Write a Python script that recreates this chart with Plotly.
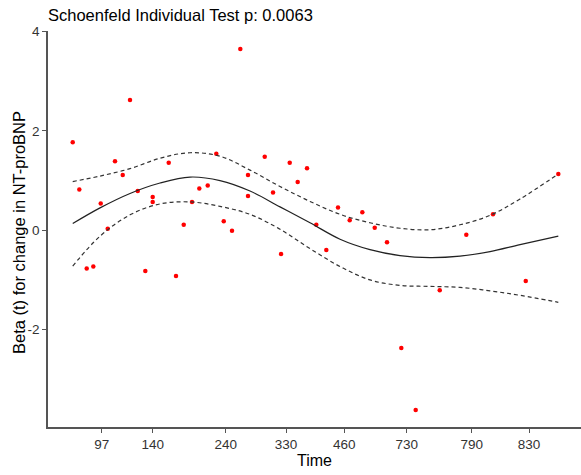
import plotly.graph_objects as go

# Transformed (km) time of each residual and the scaled Schoenfeld residual
res_t = [0.0, 0.0136, 0.0288, 0.0424, 0.0577, 0.0721, 0.0871, 0.1030, 0.1180, 0.1339,
         0.1495, 0.1647, 0.1647, 0.1977, 0.2127, 0.2286, 0.2457, 0.2607, 0.2780, 0.2957,
         0.3110, 0.3280, 0.3451, 0.3610, 0.3610, 0.3954, 0.4125, 0.4290, 0.4469, 0.4633,
         0.4825, 0.5016, 0.5222, 0.5463, 0.5704, 0.5964, 0.6219, 0.6472, 0.6767, 0.7063,
         0.7558, 0.8105, 0.8655, 0.9329, 1.0]
res_beta = [1.77, 0.82, -0.77, -0.73, 0.54, 0.03, 1.39, 1.11, 2.62, 0.79,
            -0.82, 0.67, 0.57, 1.36, -0.92, 0.11, 0.57, 0.84, 0.90, 1.54,
            0.18, -0.01, 3.65, 1.11, 0.69, 1.48, 0.76, -0.48, 1.36, 0.97,
            1.25, 0.11, -0.40, 0.46, 0.20, 0.36, 0.05, -0.24, -2.37, -3.62,
            -1.21, -0.09, 0.32, -1.02, 1.13]

# Smoothed fit and confidence band
fit_t = [0.0, 0.0562, 0.1180, 0.1798, 0.2416, 0.3033, 0.3651, 0.4269, 0.4887,
         0.5505, 0.6122, 0.6740, 0.7358, 0.7976, 0.8594, 0.9212, 1.0]
fit_mid = [0.135, 0.45, 0.74, 0.95, 1.07, 1.00, 0.79, 0.47, 0.15,
           -0.18, -0.39, -0.51, -0.55, -0.52, -0.43, -0.29, -0.12]
fit_upper = [0.98, 1.09, 1.24, 1.45, 1.56, 1.49, 1.21, 0.88, 0.58,
             0.32, 0.15, 0.04, 0.01, 0.11, 0.30, 0.63, 1.13]
fit_lower = [-0.72, -0.12, 0.31, 0.53, 0.57, 0.48, 0.32, 0.02, -0.37,
             -0.73, -1.00, -1.11, -1.13, -1.15, -1.22, -1.31, -1.45]

# Time axis ticks (position on transformed scale, original time label)
tick_pos = [0.0597, 0.1647, 0.3151, 0.4393, 0.5593, 0.6878, 0.8217, 0.9397]
tick_lab = ["97", "140", "240", "330", "460", "730", "790", "830"]
y_ticks = [-2, 0, 2, 4]
y_labels = ["-2", "0", "2", "4"]

FONT = "Liberation Sans, Arial"

fig = go.Figure()
fig.add_trace(go.Scatter(x=res_t, y=res_beta, mode="markers",
                         marker=dict(color="red", size=4.5), showlegend=False))
fig.add_trace(go.Scatter(x=fit_t, y=fit_mid, mode="lines", line_shape="spline",
                         line=dict(color="#222222", width=1.2), showlegend=False))
for band in (fit_upper, fit_lower):
    fig.add_trace(go.Scatter(x=fit_t, y=band, mode="lines", line_shape="spline",
                             line=dict(color="#333333", width=1.2, dash="4px,3px"),
                             showlegend=False))

axis_common = dict(showline=True, linecolor="#555555", linewidth=1.5,
                   ticks="outside", ticklen=4, tickcolor="#555555", tickwidth=1,
                   showgrid=False, zeroline=False,
                   tickfont=dict(family=FONT, size=13.5, color="#333333"),
                   mirror=False)

fig.update_layout(
    width=581, height=475,
    margin=dict(l=48, r=0, t=31, b=48),
    paper_bgcolor="white", plot_bgcolor="white",
    title=dict(text="Schoenfeld Individual Test p: 0.0063",
               font=dict(family=FONT, size=16.5, color="black"),
               x=0.0, xref="paper", xanchor="left",
               y=1 - 15 / 475, yref="container", yanchor="middle"),
    xaxis=dict(range=[-0.0509, 1.0467], tickvals=tick_pos, ticktext=tick_lab,
               title=dict(text="Time", font=dict(family=FONT, size=16, color="black"),
                          standoff=4),
               **axis_common),
    yaxis=dict(range=[-3.96, 4.01], tickvals=y_ticks, ticktext=y_labels,
               **axis_common),
    annotations=[dict(text="Beta (t) for change in NT-proBNP",
                      font=dict(family=FONT, size=16.5, color="black"),
                      textangle=-90, showarrow=False,
                      xref="paper", yref="paper",
                      x=(19 - 48) / 533, y=1 - (233 - 31) / 396,
                      xanchor="center", yanchor="middle")],
)

fig.write_html("out.html")
